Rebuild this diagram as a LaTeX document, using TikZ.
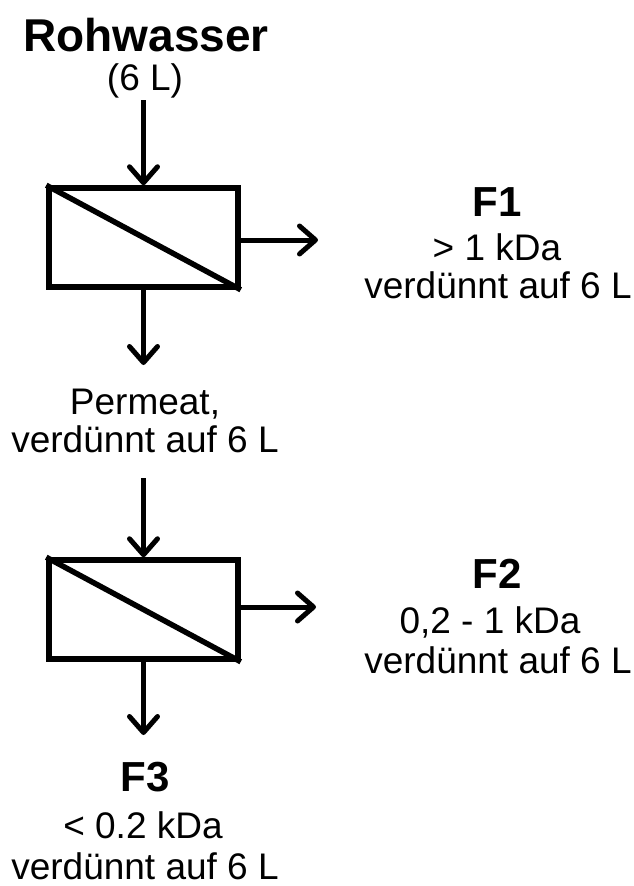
\documentclass[tikz,border=0pt]{standalone}
\usepackage{fontspec}
\setmainfont{Liberation Sans}
\usetikzlibrary{arrows.meta}
\begin{document}
\begin{tikzpicture}[x=1pt,y=-1pt,
  lbl/.style={anchor=base,inner sep=0pt,font=\fontsize{37}{44}\selectfont},
  ttl/.style={anchor=base,inner sep=0pt,font=\fontsize{42}{50}\selectfont\bfseries},
  filt/.style={draw,line width=5.5pt,minimum width=189pt,minimum height=99pt,inner sep=0pt},
  arr/.style={line width=5pt,-{Straight Barb[length=16pt,width=28pt,line cap=round,line join=round]}}]
\useasboundingbox (0,0) rectangle (633,886);
% titles and labels
\node[ttl,font=\fontsize{46}{54}\selectfont\bfseries] (rw) at (146,51) {Rohwasser};
\node[lbl] (rw6) at (145,90) {(6 L)};
\node[ttl] (f1) at (497,216) {F1};
\node[lbl] (f1a) at (497,260) {> 1 kDa};
\node[lbl] (f1b) at (498,298) {verdünnt auf 6 L};
\node[lbl] (pa) at (145,414) {Permeat,};
\node[lbl] (pb) at (145,452) {verdünnt auf 6 L};
\node[ttl] (f2) at (497,588) {F2};
\node[lbl] (f2a) at (490,633) {0,2 - 1 kDa};
\node[lbl] (f2b) at (498,673) {verdünnt auf 6 L};
\node[ttl] (f3) at (145,791) {F3};
\node[lbl] (f3a) at (143,838) {< 0.2 kDa};
\node[lbl] (f3b) at (145,879) {verdünnt auf 6 L};
% filters
\node[filt] (b1) at (143.5,237.5) {};
\draw[line width=5.5pt] (b1.north west) -- (b1.south east);
\node[filt] (b2) at (143.5,609.5) {};
\draw[line width=5.5pt] (b2.north west) -- (b2.south east);
% connector ends
\coordinate (a0) at (143.5,100);
\coordinate (a1) at (143.5,365);
\coordinate (a2) at (143.5,478);
\coordinate (a3) at (143.5,735);
\coordinate (r1) at (318,240);
\coordinate (r2) at (316,607);
% arrows
\draw[arr] (a0) -- (b1.north);
\draw[arr] (b1.south) -- (a1);
\draw[arr] (a2) -- (b2.north);
\draw[arr] (b2.south) -- (a3);
\draw[arr] (b1.east |- r1) -- (r1);
\draw[arr] (b2.east |- r2) -- (r2);
\end{tikzpicture}
\end{document}
